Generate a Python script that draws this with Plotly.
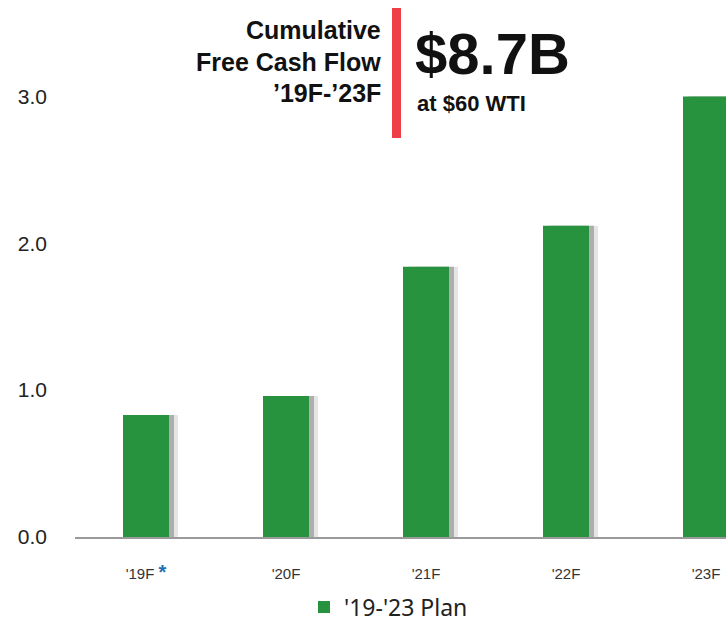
import plotly.graph_objects as go

categories = ["'19F", "'20F", "'21F", "'22F", "'23F"]
tick_labels = ["'19F <b><span style='color:#1f6fb4;font-size:20px'>*</span></b>", "'20F", "'21F", "'22F", "'23F"]
values = [0.83, 0.96, 1.84, 2.12, 3.0]
series_name = "'19-'23 Plan"

W, H = 726, 623
L, R, T, B = 75, 0, 67, 86
PW = W - L - R
PH = H - T - B
y_max = 3.2
PX_PER_CAT = 140.0
first_center_px = 146
x_lo = (L - first_center_px) / PX_PER_CAT
x_hi = (W - R - first_center_px) / PX_PER_CAT
bar_w = 46 / PX_PER_CAT
px = 1 / PX_PER_CAT

def paper_x(p):
    return (p - L) / PW

def paper_y(p):
    return (H - B - p) / PH

xs = list(range(len(categories)))
GREEN = "#28933f"

fig = go.Figure()
fig.add_trace(go.Bar(x=xs, y=values, width=bar_w, offset=-bar_w / 2 + 9 * px,
                     marker=dict(color="rgba(150,150,150,0.25)", line=dict(width=0)),
                     showlegend=False, hoverinfo="skip"))
fig.add_trace(go.Bar(x=xs, y=values, width=bar_w, offset=-bar_w / 2 + 5 * px,
                     marker=dict(color="rgba(130,130,130,0.55)", line=dict(width=0)),
                     showlegend=False, hoverinfo="skip"))
fig.add_trace(go.Bar(x=xs, y=values, width=bar_w, offset=-bar_w / 2,
                     marker=dict(color=GREEN, line=dict(width=0)),
                     name=series_name, showlegend=True))

fig.update_layout(
    width=W, height=H, margin=dict(l=L, r=R, t=T, b=B, autoexpand=False),
    barmode="overlay", plot_bgcolor="white", paper_bgcolor="white",
    xaxis=dict(range=[x_lo, x_hi], tickmode="array", tickvals=xs, ticktext=tick_labels,
               showgrid=False, zeroline=False, showline=True, linecolor="#9a9a9a", linewidth=2,
               ticks="", ticklabelstandoff=22,
               tickfont=dict(family="Liberation Sans Narrow, Liberation Sans, Arial", size=15, color="#333333")),
    yaxis=dict(range=[0, y_max], tickvals=[0, 1, 2, 3], ticktext=["0.0", "1.0", "2.0", "3.0"],
               showgrid=False, zeroline=False, showline=False, ticks="", ticklabelstandoff=27,
               tickfont=dict(family="Liberation Sans, Arial", size=21, color="#222222")),
    legend=dict(orientation="h", x=paper_x(304), xanchor="left", y=paper_y(607), yanchor="middle",
                font=dict(family="Noto Sans, Open Sans", size=23, color="#222222"),
                itemwidth=30, tracegroupgap=0),
    showlegend=True,
)

fig.add_shape(type="rect", xref="paper", yref="paper",
              x0=paper_x(392), x1=paper_x(401), y0=paper_y(138), y1=paper_y(8),
              fillcolor="#ee3f46", line=dict(width=0))

title_font = dict(family="Liberation Sans, Arial", size=25, color="#111111")
for text, yc in [("<b>Cumulative</b>", 30), ("<b>Free Cash Flow</b>", 62), ("<b>’19F-’23F</b>", 93)]:
    fig.add_annotation(text=text, xref="paper", yref="paper", x=paper_x(383), y=paper_y(yc),
                       xanchor="right", yanchor="middle", showarrow=False, font=title_font)

fig.add_annotation(text="<b>$8.7B</b>", xref="paper", yref="paper", x=paper_x(413), y=paper_y(53),
                   xanchor="left", yanchor="middle", showarrow=False,
                   font=dict(family="Liberation Sans, Arial", size=58, color="#111111"))
fig.add_annotation(text="<b>at $60 WTI</b>", xref="paper", yref="paper", x=paper_x(415), y=paper_y(103),
                   xanchor="left", yanchor="middle", showarrow=False,
                   font=dict(family="Liberation Sans, Arial", size=22, color="#111111"))

fig.write_html("out.html", config={"displayModeBar": False},
               post_script="document.body.style.margin='0';document.body.style.padding='0';document.body.style.overflow='hidden';")
